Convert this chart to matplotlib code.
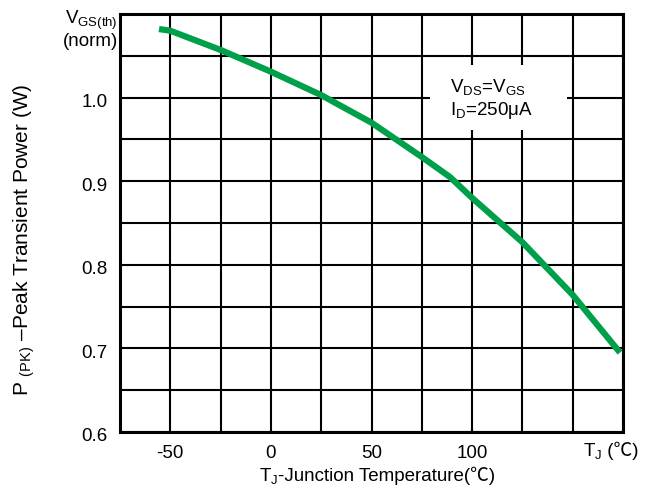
import matplotlib
matplotlib.use('Agg')
import matplotlib.pyplot as plt
from matplotlib.patches import Rectangle
from matplotlib.offsetbox import TextArea, HPacker, AnnotationBbox
from matplotlib.transforms import ScaledTranslation
import numpy as np

plt.rcParams['font.family'] = ['Liberation Sans', 'Noto Sans CJK SC', 'DejaVu Sans']
plt.rcParams['mathtext.fontset'] = 'custom'
plt.rcParams['mathtext.rm'] = 'Liberation Sans'
plt.rcParams['mathtext.it'] = 'Liberation Sans'
plt.rcParams['mathtext.default'] = 'regular'

# curve
temp = [-55.6, -50, -25, 0, 25, 50, 75, 89, 100, 125, 150, 173.5]
vgs_norm = [1.082, 1.080, 1.057, 1.031, 1.003, 0.970, 0.929, 0.905, 0.880, 0.827, 0.764, 0.695]

xticks = [-50, 0, 50, 100, 150]
xticklabels = ['-50', '0', '50', '100', '']
yticks = [0.6, 0.7, 0.8, 0.9, 1.0]
yticklabels = ['0.6', '0.7', '0.8', '0.9', '1.0']

fs = 13.5

fig = plt.figure(figsize=(6.53, 4.95), dpi=100)
ax = fig.add_axes([120/653, 1-432/495, 503/653, 418/495])

ax.set_xlim(-75, 175)
ax.set_ylim(0.6, 1.1)
ax.set_xticks(np.arange(-75, 176, 25), minor=True)
ax.set_yticks(np.arange(0.6, 1.101, 0.05), minor=True)
ax.set_xticks(xticks)
ax.set_xticklabels(xticklabels, fontsize=fs)
ax.set_yticks(yticks)
ax.set_yticklabels(yticklabels, fontsize=fs)
ax.tick_params(which='both', length=0)
ax.tick_params(axis='x', pad=9)
ax.tick_params(axis='y', pad=9)
for lab in ax.get_yticklabels():
    lab.set_transform(lab.get_transform() + ScaledTranslation(0, -3/100, fig.dpi_scale_trans))
ax.grid(which='both', color='black', linewidth=1.5)
ax.set_axisbelow(True)
for s in ax.spines.values():
    s.set_linewidth(2.2)

# white box behind the conditions text
ax.add_patch(Rectangle((79, 0.961), 68, 0.078, facecolor='white', edgecolor='none', zorder=1.5))
ax.text(89, 1.013, 'V$_{DS}$=V$_{GS}$', fontsize=fs, va='center', ha='left', zorder=4)
ax.text(89, 0.985, 'I$_D$=250\u03bcA', fontsize=fs, va='center', ha='left', zorder=4)

ax.plot(temp, vgs_norm, color='#00a04a', linewidth=4.5, zorder=3, solid_capstyle='butt')


def mixed_label(parts, xy):
    kids = [TextArea(p, textprops=dict(fontsize=fs)) for p in parts]
    box = HPacker(children=kids, align='baseline', pad=0, sep=0)
    ab = AnnotationBbox(box, xy, xycoords='figure pixels', frameon=False,
                        box_alignment=(0.5, 0.5), annotation_clip=False)
    fig.add_artist(ab)


# last x tick and x label carry the degree sign
mixed_label(['T$_J$', ' (\u2103)'], (611, 495 - 451))
mixed_label(['T$_J$', '-Junction Temperature(\u2103)'], (377, 495 - 476))

ax.set_ylabel('P $_{(PK)}$ \u2013Peak Transient Power (W)', fontsize=15)
ax.yaxis.set_label_coords((37 - 120) / 503, (432 - 240) / 418)

fig.text(118/653, 1-20/495, 'V$_{GS(th)}$', fontsize=fs, ha='right', va='center')
fig.text(118/653, 1-41/495, '(norm)', fontsize=fs, ha='right', va='center')

fig.savefig('out.png', dpi=100)
